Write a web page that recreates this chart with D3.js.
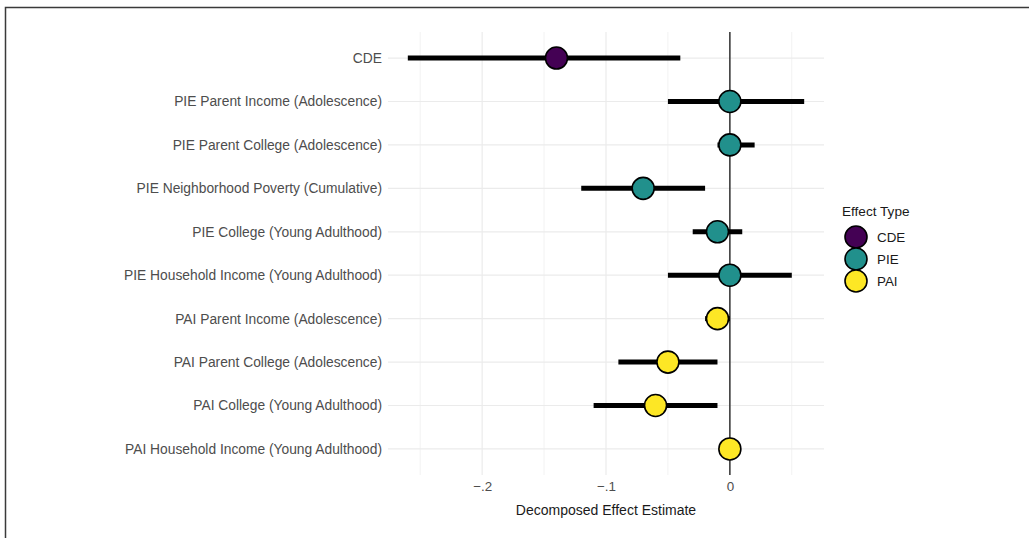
<!DOCTYPE html>
<html>
<head>
<meta charset="utf-8">
<script src="https://cdn.jsdelivr.net/npm/d3@7"></script>
<style>
    body { margin: 0; background: #fff; }
    svg { display: block; font-family: "Liberation Sans", Arial, sans-serif; }
</style>
</head>
<body>
<div id="container"></div>
<script>
// effect labels, top to bottom
const labels = [
    "CDE",
    "PIE Parent Income (Adolescence)",
    "PIE Parent College (Adolescence)",
    "PIE Neighborhood Poverty (Cumulative)",
    "PIE College (Young Adulthood)",
    "PIE Household Income (Young Adulthood)",
    "PAI Parent Income (Adolescence)",
    "PAI Parent College (Adolescence)",
    "PAI College (Young Adulthood)",
    "PAI Household Income (Young Adulthood)"
];
const types = ["CDE", "PIE", "PIE", "PIE", "PIE", "PIE", "PAI", "PAI", "PAI", "PAI"];
const estimates = [-0.14, 0, 0, -0.07, -0.01, 0, -0.01, -0.05, -0.06, 0];
const lower = [-0.26, -0.05, -0.01, -0.12, -0.03, -0.05, -0.02, -0.09, -0.11, 0];
const upper = [-0.04, 0.06, 0.02, -0.02, 0.01, 0.05, 0, -0.01, -0.01, 0];
const legendTypes = ["CDE", "PIE", "PAI"];
const typeColors = ["#440154", "#21908c", "#fde725"];
const xTicks = [-0.2, -0.1, 0];

const width = 1029, height = 538;
const margin = { left: 388, right: 205, top: 32, bottom: 63 };

const svg = d3.select("#container").append("svg")
    .attr("width", width)
    .attr("height", height);

// outer frame (runs off the right and bottom edges)
svg.append("rect")
    .attr("x", 5.5).attr("y", 7.5)
    .attr("width", 1100).attr("height", 600)
    .attr("fill", "none")
    .attr("stroke", "#3a3a3a")
    .attr("stroke-width", 1.5);

const rows = labels.map((l, i) => ({
    label: l, type: types[i], est: estimates[i], lo: lower[i], hi: upper[i]
}));

// x domain with ggplot-like 5% expansion
const xmin = d3.min(lower), xmax = d3.max(upper);
const pad = (xmax - xmin) * 0.05;
const x = d3.scaleLinear()
    .domain([xmin - pad, xmax + pad])
    .range([margin.left, width - margin.right]);

const y = d3.scalePoint()
    .domain(labels)
    .range([margin.top, height - margin.bottom])
    .padding(0.6);

const color = d3.scaleOrdinal().domain(legendTypes).range(typeColors);

const plot = svg.append("g");

// minor gridlines
const minor = d3.range(-0.25, 0.06, 0.1).map(v => +v.toFixed(2));
plot.append("g").selectAll("line")
    .data(minor)
    .join("line")
    .attr("x1", d => x(d)).attr("x2", d => x(d))
    .attr("y1", margin.top).attr("y2", height - margin.bottom)
    .attr("stroke", "#f2f2f2").attr("stroke-width", 1);

// major gridlines
plot.append("g").selectAll("line")
    .data(xTicks)
    .join("line")
    .attr("x1", d => x(d)).attr("x2", d => x(d))
    .attr("y1", margin.top).attr("y2", height - margin.bottom)
    .attr("stroke", "#ebebeb").attr("stroke-width", 1.2);

plot.append("g").selectAll("line")
    .data(labels)
    .join("line")
    .attr("x1", margin.left).attr("x2", width - margin.right)
    .attr("y1", d => y(d)).attr("y2", d => y(d))
    .attr("stroke", "#ebebeb").attr("stroke-width", 1.2);

// zero reference line
plot.append("line")
    .attr("x1", x(0)).attr("x2", x(0))
    .attr("y1", margin.top).attr("y2", height - margin.bottom)
    .attr("stroke", "#333").attr("stroke-width", 1.5);

// intervals
plot.append("g").selectAll("line")
    .data(rows)
    .join("line")
    .attr("x1", d => x(d.lo)).attr("x2", d => x(d.hi))
    .attr("y1", d => y(d.label)).attr("y2", d => y(d.label))
    .attr("stroke", "#000").attr("stroke-width", 5);

// points
plot.append("g").selectAll("circle")
    .data(rows)
    .join("circle")
    .attr("cx", d => x(d.est))
    .attr("cy", d => y(d.label))
    .attr("r", 11)
    .attr("fill", d => color(d.type))
    .attr("stroke", "#000")
    .attr("stroke-width", 1.6);

// y labels
const yAxis = d3.axisLeft(y).tickSize(0).tickPadding(6);
svg.append("g")
    .attr("transform", `translate(${margin.left},0)`)
    .call(yAxis)
    .call(g => g.select(".domain").remove())
    .call(g => g.selectAll("text")
        .attr("font-family", null)
        .attr("font-size", 13.8)
        .attr("fill", "#4d4d4d"));

// x axis labels
const xAxis = d3.axisBottom(x).tickValues(xTicks).tickSize(0).tickPadding(6)
    .tickFormat(d => d === 0 ? "0" : "\u2212" + d3.format(".1f")(Math.abs(d)).replace(/^0/, ""));
svg.append("g")
    .attr("transform", `translate(0,${height - margin.bottom})`)
    .call(xAxis)
    .call(g => g.select(".domain").remove())
    .call(g => g.selectAll("text")
        .attr("font-family", null)
        .attr("font-size", 13.4)
        .attr("fill", "#4d4d4d"));

svg.append("text")
    .attr("x", (margin.left + width - margin.right) / 2)
    .attr("y", 515)
    .attr("text-anchor", "middle")
    .attr("font-size", 14)
    .attr("fill", "#1a1a1a")
    .text("Decomposed Effect Estimate");

// legend
const legend = svg.append("g").attr("transform", "translate(841,0)");
legend.append("text")
    .attr("x", 1).attr("y", 216)
    .attr("font-size", 13.6)
    .attr("fill", "#1a1a1a")
    .text("Effect Type");
const keys = legend.selectAll("g.key")
    .data(legendTypes)
    .join("g")
    .attr("class", "key")
    .attr("transform", (d, i) => `translate(0,${237 + i * 22})`);
keys.append("circle")
    .attr("cx", 15).attr("cy", 0).attr("r", 11)
    .attr("fill", d => color(d))
    .attr("stroke", "#000").attr("stroke-width", 1.6);
keys.append("text")
    .attr("x", 36).attr("y", 5)
    .attr("font-size", 13.4)
    .attr("fill", "#1a1a1a")
    .text(d => d);
</script>
</body>
</html>
